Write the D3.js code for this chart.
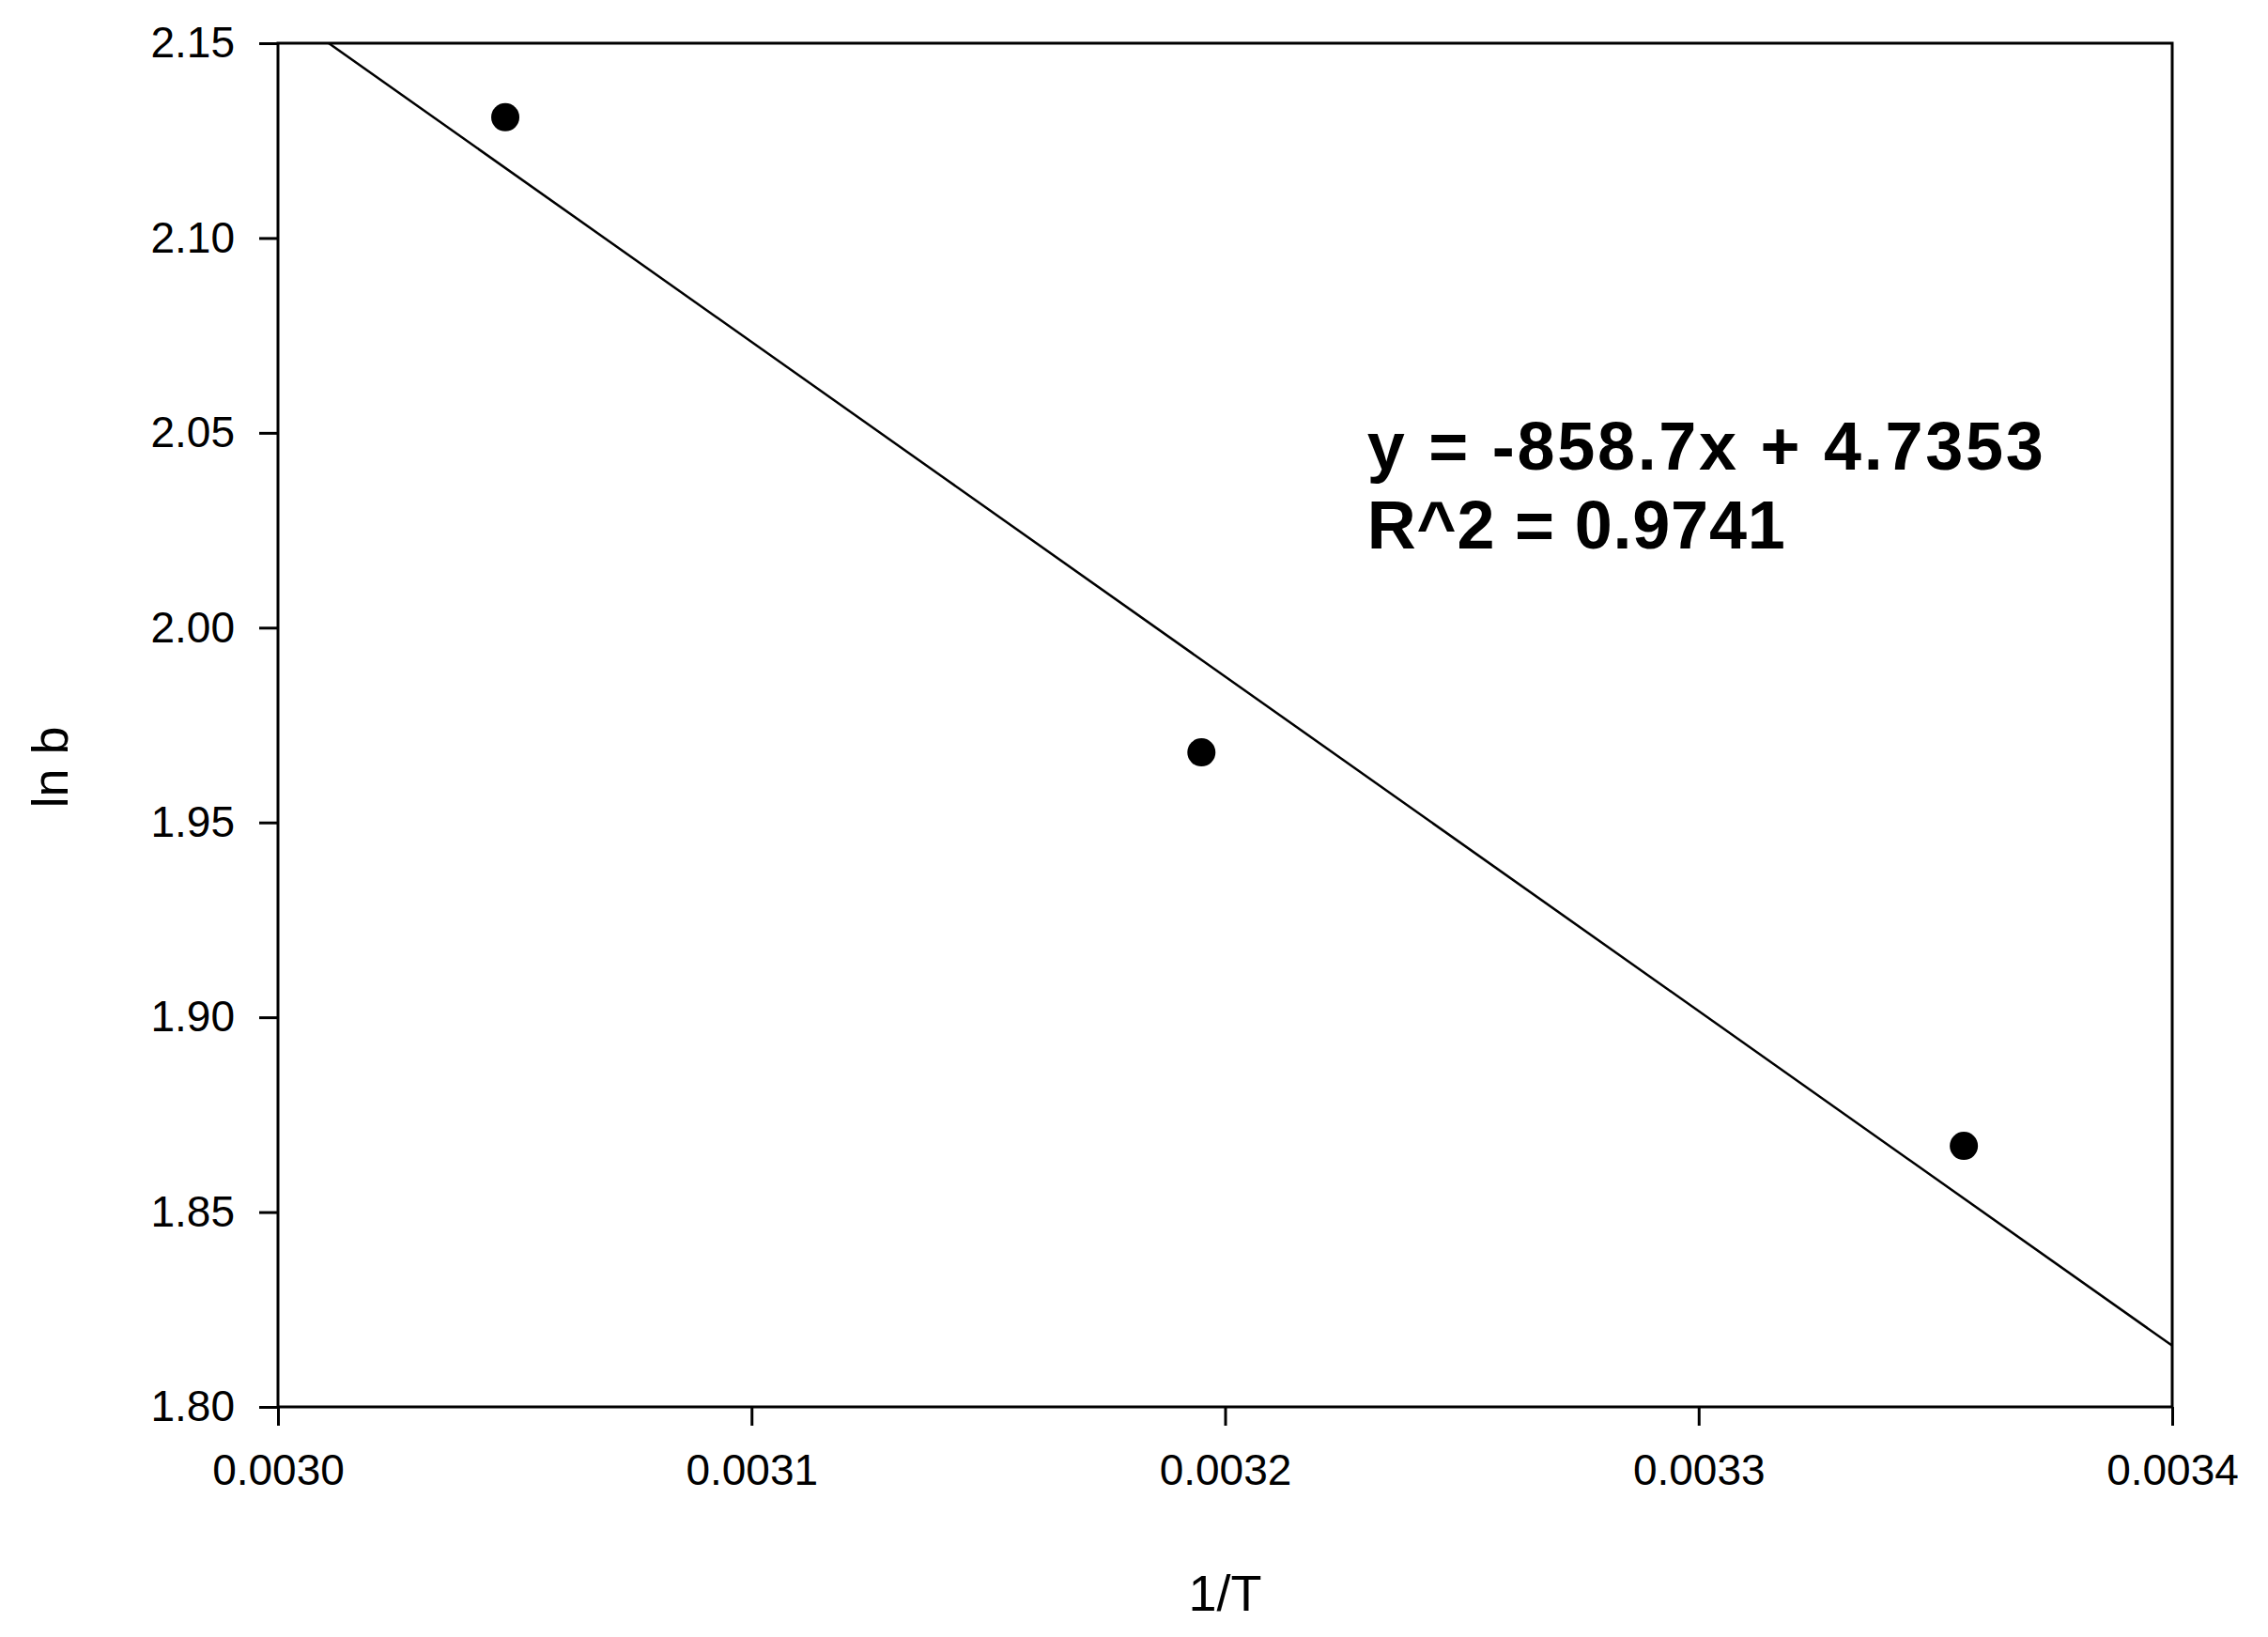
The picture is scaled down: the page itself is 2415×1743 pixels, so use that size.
<!DOCTYPE html>
<html><head><meta charset="utf-8">
<script src="https://cdn.jsdelivr.net/npm/d3@7"></script>
<style>body{margin:0;background:#fff}</style>
</head><body><div id="chart"></div>
<script>
// Data
const invT = [0.003048, 0.003195, 0.003356];
const lnb = [2.131, 1.968, 1.867];
const slope = -858.7, intercept = 4.7353;
const xTicks = [0.0030, 0.0031, 0.0032, 0.0033, 0.0034];
const yTicks = [1.80, 1.85, 1.90, 1.95, 2.00, 2.05, 2.10, 2.15];
const eqLines = ["y = -858.7x + 4.7353", "R^2 = 0.9741"];

const W = 2415, H = 1743;
const margin = {top: 46, right: 102, bottom: 245, left: 296};
const width = W - margin.left - margin.right;
const height = H - margin.top - margin.bottom;

const svg = d3.select("#chart").append("svg")
    .attr("width", W).attr("height", H)
    .style("font-family", "Liberation Sans, Arial, sans-serif");
const g = svg.append("g").attr("transform", `translate(${margin.left},${margin.top})`);

const x = d3.scaleLinear().domain([0.0030, 0.0034]).range([0, width]);
const y = d3.scaleLinear().domain([1.80, 2.15]).range([height, 0]);

// Axes
const xAxis = g.append("g").attr("transform", `translate(0,${height})`)
    .call(d3.axisBottom(x).tickValues(xTicks).tickFormat(d3.format(".4f")).tickSize(20).tickPadding(30));
const yAxis = g.append("g")
    .call(d3.axisLeft(y).tickValues(yTicks).tickFormat(d3.format(".2f")).tickSize(20).tickPadding(26));
[xAxis, yAxis].forEach(a => {
    a.select(".domain").remove();
    a.selectAll("line").attr("stroke", "#000").attr("stroke-width", 3);
    a.selectAll("text").attr("font-size", 46).attr("fill", "#000").attr("font-family", "Liberation Sans, Arial, sans-serif");
});

// Frame
g.append("rect").attr("width", width).attr("height", height)
    .attr("fill", "none").attr("stroke", "#000").attr("stroke-width", 3);

// Regression line clipped to plot
g.append("clipPath").attr("id", "clip").append("rect").attr("width", width).attr("height", height);
g.append("line")
    .attr("clip-path", "url(#clip)")
    .attr("x1", x(0.0030)).attr("y1", y(slope * 0.0030 + intercept))
    .attr("x2", x(0.0034)).attr("y2", y(slope * 0.0034 + intercept))
    .attr("stroke", "#000").attr("stroke-width", 2.5);

// Points
g.selectAll("circle").data(invT).enter().append("circle")
    .attr("cx", d => x(d)).attr("cy", (d, i) => y(lnb[i]))
    .attr("r", 15).attr("fill", "#000");

// Equation text
eqLines.forEach((t, i) => {
    g.append("text").attr("x", x(0.003230)).attr("y", y(2.055) + 60 + i * 84)
        .attr("font-size", 72).attr("font-weight", "bold").attr("textLength", i === 0 ? 720 : 445)
        .text(t);
});

// Axis labels
svg.append("text").attr("x", margin.left + width / 2).attr("y", H - 28)
    .attr("text-anchor", "middle").attr("font-size", 54).text("1/T");
svg.append("text").attr("transform", `translate(72,${margin.top + height / 2 + 45}) rotate(-90)`)
    .attr("text-anchor", "middle").attr("font-size", 54).text("ln b");
</script></body></html>
